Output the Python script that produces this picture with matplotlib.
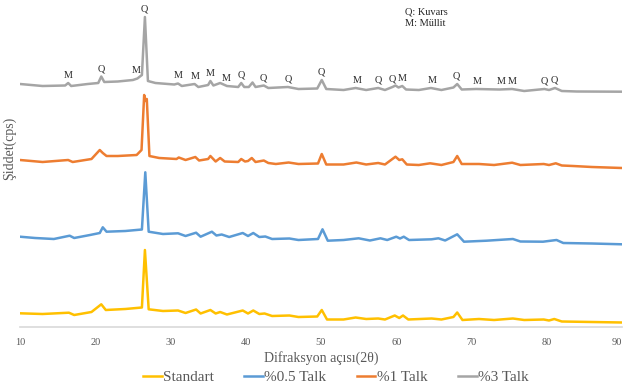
import numpy as np
import matplotlib
matplotlib.use("Agg")
import matplotlib.pyplot as plt

# ---------------- data (2theta, intensity in arbitrary cps units) ----------------
tt_standart = [10, 13, 16.5, 17.2, 19.5, 20.8, 21.4, 24, 26.2, 26.6, 27.1, 29, 31, 32, 33.4,
               34, 35.3, 36, 36.6, 37.5, 39.6, 40.3, 41, 41.8, 42.5, 43.5, 45.8, 47, 49.5, 50.1,
               50.8, 53, 54.6, 56, 57.6, 58.5, 59.8, 60.4, 60.9, 61.6, 64.7, 66, 67.6, 68.1, 68.8,
               71, 73, 75.5, 77, 79.6, 80.3, 81, 82, 86, 90]
i_standart = [13.7, 13, 14.3, 12, 15, 22.7, 17, 18, 19.5, 77, 17.7, 16, 16.5, 14, 17.5,
              13.5, 17, 13.5, 15, 12.5, 16.5, 13.5, 16.5, 13, 13.5, 11, 11.5, 10, 10.5, 17,
              7.5, 7.5, 9.5, 8, 8.5, 7.5, 11.5, 9, 11.5, 7.5, 8.5, 7.5, 10, 14.5, 7,
              8, 7, 8.5, 7, 7.5, 6.5, 8, 5.5, 5, 4.5]

tt_talk05 = [10, 12, 14.5, 16.6, 17.2, 19.3, 20.6, 21, 21.5, 24, 26.2, 26.65, 27.1, 29, 31,
             32, 33.4, 34, 35.5, 36.1, 36.8, 37.8, 39.6, 40.3, 41, 41.8, 42.6, 43.5, 45.8, 47,
             49.6, 50.2, 50.9, 53, 55, 56.5, 57.9, 58.8, 60, 60.5, 61, 61.7, 64.7, 65.6, 66.5,
             68.1, 69, 72, 75.5, 76.5, 79.5, 81.3, 82.2, 86, 90]
i_talk05 = [90.3, 89, 88, 91.3, 89, 92, 94, 99.7, 95.3, 96, 97.5, 154.7, 95.3, 93, 93.7,
            91, 94.3, 90.3, 95.3, 91.5, 92.5, 90, 94, 91, 94, 90, 90.5, 88, 88.5, 87,
            88, 97.7, 86.3, 87, 88.7, 86.5, 88.7, 87, 90.3, 88.5, 90.3, 87, 87.7, 88.7, 86.5,
            92.7, 85.3, 86.3, 88, 85.5, 85.3, 87, 84, 83.5, 82.7]

tt_talk1 = [10, 13, 16.4, 17, 19.5, 20.6, 21, 21.5, 23, 25.5, 26.15, 26.5, 26.7, 26.85, 27.2,
            28.5, 30.8, 31.1, 32, 33.3, 33.8, 35, 35.3, 36, 36.6, 37.2, 39, 39.4, 39.9, 40.3,
            40.8, 41.3, 42.4, 43, 44, 45.7, 47, 49.6, 50.1, 50.7, 53, 54.7, 56, 57.6, 58.5,
            59.9, 60.4, 60.8, 61.4, 63, 64.5, 66, 67.6, 68.1, 68.7, 71, 73, 75.4, 76.5, 79.6,
            80.3, 81.2, 82, 83.5, 86, 90]
i_talk1 = [167, 165, 167, 165, 168, 177, 174, 171, 171, 172, 177, 232, 226, 228, 171,
           169, 168, 169.5, 167, 170, 166.5, 168, 171, 165.5, 169, 165.5, 165, 168, 165.5, 166,
           169, 165, 166.5, 164, 163, 164.5, 163, 163.5, 173, 162.5, 162.5, 164.5, 162.5, 164, 162.5,
           170.3, 167, 167.7, 162.5, 162, 163.7, 162, 165, 171, 163, 163, 162, 164.3, 162, 163,
           162, 163.7, 161.5, 161, 160, 159]

tt_talk3 = [10, 13, 16, 16.4, 16.8, 19, 20.4, 20.8, 21.2, 23, 25, 25.6, 26.2, 26.6, 27.0,
            28, 30.5, 31, 31.5, 33.2, 33.7, 35, 35.3, 35.7, 36.6, 37.5, 39, 39.4, 39.8, 40.4,
            40.9, 41.3, 42.4, 43, 45.6, 47, 49.5, 50.1, 50.7, 53, 54.6, 56, 57.6, 58.5, 59.5,
            59.9, 60.3, 60.8, 61.3, 63, 64.6, 66, 67.6, 68.1, 68.7, 70.6, 73.7, 75.4, 77, 79.7,
            80.3, 81.1, 82, 84, 90]
i_talk3 = [243, 241, 241.5, 244, 241, 243, 244, 250.5, 245, 245.5, 247, 248.5, 252, 310, 246,
           244, 242.5, 243.5, 241, 243, 240, 242, 246, 241.5, 244, 241, 240, 244, 240, 240,
           244.5, 240, 241.5, 239, 240, 238, 238.5, 247, 238, 237, 239, 237, 239, 237, 240,
           241.5, 239.5, 241, 237.5, 237, 239, 237, 239.5, 243, 237.5, 238, 237.5, 238, 236, 238,
           237, 239, 236, 235.5, 235.3]

series_names = ["Standart", "%0.5 Talk", "%1 Talk", "%3 Talk"]
series_colors = ["#FFC000", "#5B9BD5", "#ED7D31", "#A5A5A5"]

# phase markers on the %3 Talk pattern
marker_tt = [16.4, 20.8, 25.4, 26.5, 31.0, 33.3, 35.3, 37.4, 39.4, 42.3, 45.6, 50.0,
             54.8, 57.6, 59.5, 60.8, 64.8, 68.0, 70.8, 74.0, 75.4, 79.7, 81.0]
marker_txt = ["M", "Q", "M", "Q", "M", "M", "M", "M", "Q", "Q", "Q", "Q",
              "M", "Q", "Q", "M", "M", "Q", "M", "M", "M", "Q", "Q"]

xticks = [10, 20, 30, 40, 50, 60, 70, 80, 90]

# ---------------- figure ----------------
plt.rcParams['font.family'] = ['Liberation Serif', 'DejaVu Serif']
W, H = 625, 392
fig = plt.figure(figsize=(W / 100, H / 100), dpi=100)
ax = fig.add_axes([20 / W, 1 - 327 / H, 602 / W, 322 / H])

data = [(tt_standart, i_standart), (tt_talk05, i_talk05), (tt_talk1, i_talk1), (tt_talk3, i_talk3)]
for (tt, ii), name, col in zip(data, series_names, series_colors):
    ax.plot(tt, ii, color=col, lw=1.8, label=name, solid_joinstyle='round')

# annotations
g_tt = np.array(tt_talk3)
g_i = np.array(i_talk3)
for x, t in zip(marker_tt, marker_txt):
    mask = (g_tt >= x - 0.35) & (g_tt <= x + 0.35)
    base = g_i[mask].max() if mask.any() else np.interp(x, g_tt, g_i)
    ax.annotate(t, (x, base), xytext=(0, 2.5), textcoords='offset points',
                ha='center', va='bottom', fontsize=7.3, color='#262626')

fig.text(405 / W, 1 - 18 / H, "Q: Kuvars\nM: Müllit", fontsize=7.5,
         color='#262626', va='center', ha='left', linespacing=1.3)

ax.set_xlim(10, 90)
ax.set_ylim(0, 322)
ax.set_xticks(xticks)
ax.set_xticklabels([str(v) for v in xticks])
ax.set_yticks([])
for s in ['top', 'right', 'left']:
    ax.spines[s].set_visible(False)
ax.spines['bottom'].set_color('#D9D9D9')
ax.spines['bottom'].set_linewidth(1.2)
ax.tick_params(axis='x', length=0, pad=8, labelsize=7.5, labelcolor='#595959')
ax.get_xticklabels()[-1].set_horizontalalignment('right')

ax.set_xlabel("Difraksyon açısı(2θ)", fontsize=10, color='#595959', labelpad=3)
fig.text(9 / W, 1 - 148 / H, "Şiddet(cps)", rotation=90, fontsize=10, color='#595959',
         ha='center', va='center')

leg = fig.legend(loc='center', bbox_to_anchor=(336 / W, 1 - 377 / H), ncol=4, frameon=False,
                 fontsize=11, handlelength=1.2, handletextpad=0.1, columnspacing=2.0,
                 labelcolor='#595959')
for lh in leg.get_lines():
    lh.set_linewidth(1.8)

fig.savefig("out.png", dpi=100)
